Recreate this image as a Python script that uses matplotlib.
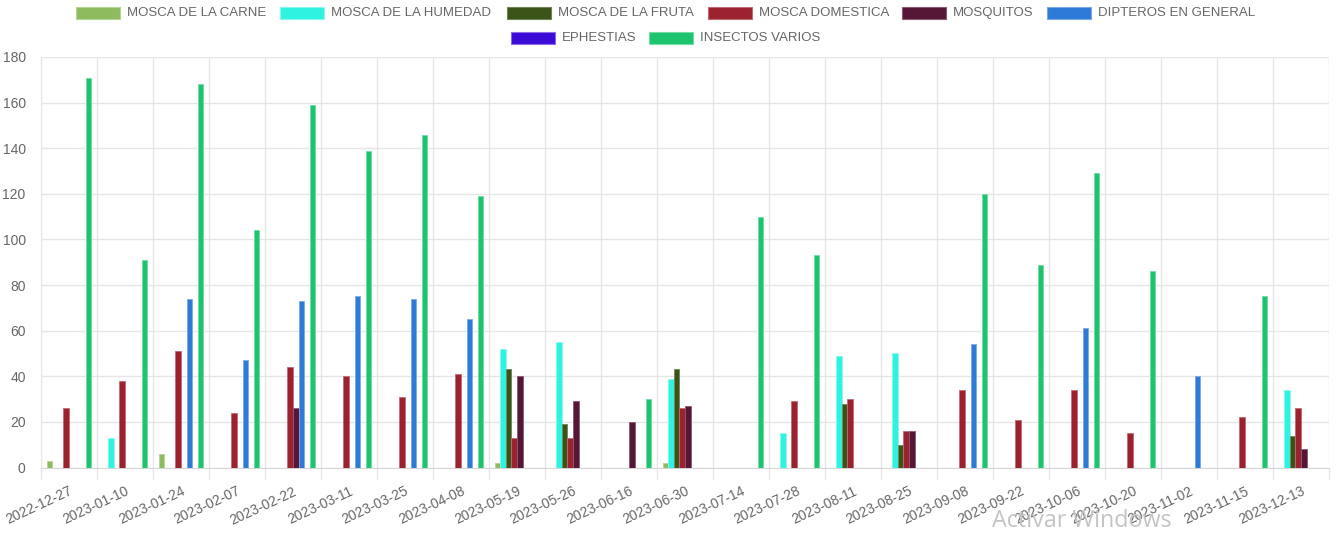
import matplotlib
matplotlib.use("Agg")
from matplotlib import pyplot as plt
from matplotlib.patches import Rectangle
import numpy as np

dates = ["2022-12-27", "2023-01-10", "2023-01-24", "2023-02-07", "2023-02-22",
         "2023-03-11", "2023-03-25", "2023-04-08", "2023-05-19", "2023-05-26",
         "2023-06-16", "2023-06-30", "2023-07-14", "2023-07-28", "2023-08-11",
         "2023-08-25", "2023-09-08", "2023-09-22", "2023-10-06", "2023-10-20",
         "2023-11-02", "2023-11-15", "2023-12-13"]

mosca_carne = [3, 0, 6, 0, 0, 0, 0, 0, 2, 0, 0, 2, 0, 0, 0, 0, 0, 0, 0, 0, 0, 0, 0]
mosca_humedad = [0, 13, 0, 0, 0, 0, 0, 0, 52, 55, 0, 39, 0, 15, 49, 50, 0, 0, 0, 0, 0, 0, 34]
mosca_fruta = [0, 0, 0, 0, 0, 0, 0, 0, 43, 19, 0, 43, 0, 0, 28, 10, 0, 0, 0, 0, 0, 0, 14]
mosca_domestica = [26, 38, 51, 24, 44, 40, 31, 41, 13, 13, 0, 26, 0, 29, 30, 16, 34, 21, 34, 15, 0, 22, 26]
mosquitos = [0, 0, 0, 0, 26, 0, 0, 0, 40, 29, 20, 27, 0, 0, 0, 16, 0, 0, 0, 0, 0, 0, 8]
dipteros = [0, 0, 74, 47, 73, 75, 74, 65, 0, 0, 0, 0, 0, 0, 0, 0, 54, 0, 61, 0, 40, 0, 0]
ephestias = [0] * 23
insectos_varios = [171, 91, 168, 104, 159, 139, 146, 119, 0, 0, 30, 0, 110, 93, 0, 0, 120, 89, 129, 86, 0, 75, 0]

series_names = ["MOSCA DE LA CARNE", "MOSCA DE LA HUMEDAD", "MOSCA DE LA FRUTA",
                "MOSCA DOMESTICA", "MOSQUITOS", "DIPTEROS EN GENERAL",
                "EPHESTIAS", "INSECTOS VARIOS"]
series_values = [mosca_carne, mosca_humedad, mosca_fruta, mosca_domestica,
                 mosquitos, dipteros, ephestias, insectos_varios]
colors = ["#8fbb5f", "#2ef3e0", "#3a5317", "#9c2230", "#561636",
          "#2e7ad8", "#3a0ad6", "#1dc46f"]
edges = ["#b5d496", "#8af8ee", "#6f8457", "#c06a74", "#8a5a74",
         "#7aaae6", "#8a6ae6", "#75dba5"]

W, H = 1337, 536
plt.rcParams["font.family"] = ["Liberation Sans", "DejaVu Sans"]
fig = plt.figure(figsize=(W / 100, H / 100), dpi=100)

left, right, bottom, top = 41, 1329, 467.5, 57
ax = fig.add_axes([left / W, (H - bottom) / H, (right - left) / W, (bottom - top) / H])

x = np.arange(len(dates))
n = len(series_names)
width = 0.8 / n
for j in range(n):
    ax.bar(x + (j - (n - 1) / 2) * width, series_values[j], width,
           color=colors[j], edgecolor=edges[j], linewidth=0.6, zorder=3)

ax.set_xlim(-0.5, len(dates) - 0.5)
ax.set_ylim(0, 180)
ax.set_yticks(range(0, 181, 20))
ax.set_xticks(x)
ax.set_xticklabels(dates, rotation=25, ha="right", rotation_mode="anchor")
ax.set_xticks(np.arange(-0.5, len(dates)), minor=True)

ax.grid(True, axis="y", color="#e6e6e6", linewidth=1, zorder=0)
ax.grid(True, axis="x", which="minor", color="#e6e6e6", linewidth=1, zorder=0)
ax.tick_params(axis="x", which="major", length=0, pad=12, labelsize=10, labelcolor="#666666")
ax.tick_params(axis="x", which="minor", length=8, color="#e6e6e6", width=1)
ax.tick_params(axis="y", length=0, pad=11, labelsize=10, labelcolor="#666666")

for s in ["top", "right"]:
    ax.spines[s].set_visible(False)
ax.spines["left"].set_color("#e6e6e6")
ax.spines["bottom"].set_color("#d6d6d6")

# legend drawn in pixel positions like the chart.js one
legend_rows = [
    (13, [(76, 0), (280, 1), (507, 2), (708, 3), (902, 4), (1047, 5)]),
    (38, [(511, 6), (649, 7)]),
]
for yc, items in legend_rows:
    for xs, k in items:
        fig.add_artist(Rectangle((xs / W, (H - yc - 6) / H), 44 / W, 12 / H,
                                 transform=fig.transFigure, facecolor=colors[k],
                                 edgecolor=edges[k], linewidth=0.8))
        fig.text((xs + 51) / W, (H - yc) / H, series_names[k], fontsize=9.5,
                 color="#666666", va="center", ha="left")

fig.text(992 / W, (H - 521) / H, "Activar Windows", fontsize=16.8, color="#c4c4c4",
         family=["Open Sans", "DejaVu Sans"], va="center", ha="left")

fig.savefig("out.png", dpi=100, facecolor="white")
